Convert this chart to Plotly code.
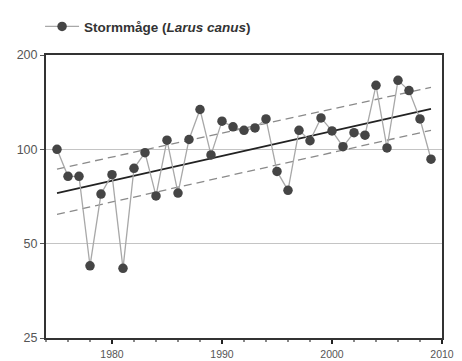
import plotly.graph_objects as go

years = list(range(1975, 2010))
index = [100, 82, 82, 42.5, 72, 83, 41.7, 87, 97.6, 71, 107, 72.5, 107.5, 134, 96,
         123, 118, 115, 117, 125, 85, 74, 115, 106.5, 126, 114.5, 102, 113, 111,
         160, 101, 166, 154, 125, 93]
trend_years = [1975, 2009]
trend = [72.5, 134.6]
upper = [86.5, 157.6]
lower = [62, 115]
y_ticks = [25, 50, 100, 200]
x_ticks = [1980, 1990, 2000, 2010]
series_name = "<b>Stormmåge (<i>Larus canus</i>)</b>"

fig = go.Figure()
for band in (upper, lower):
    fig.add_trace(go.Scatter(x=trend_years, y=band, mode="lines", showlegend=False,
                             line=dict(color="#8a8a8a", width=1.3, dash="8px,5px"),
                             hoverinfo="skip"))
fig.add_trace(go.Scatter(x=trend_years, y=trend, mode="lines", showlegend=False,
                         line=dict(color="#222222", width=1.6), hoverinfo="skip"))
fig.add_trace(go.Scatter(x=years, y=index, mode="lines+markers", name=series_name,
                         line=dict(color="#a8a8a8", width=1.3),
                         marker=dict(color="#454545", size=9.5)))

fig.update_layout(
    width=462, height=361,
    margin=dict(l=46, r=20, t=55, b=23, autoexpand=False),
    paper_bgcolor="white", plot_bgcolor="white",
    font=dict(family="Liberation Sans, Arial, sans-serif", size=12, color="#444444"),
    showlegend=True,
    legend=dict(x=-0.015, y=1.10, xanchor="left", yanchor="middle",
                font=dict(size=13.5, color="#333333"), bgcolor="rgba(0,0,0,0)",
                itemwidth=34),
    xaxis=dict(range=[1974, 2010], tickvals=x_ticks, ticks="outside", ticklen=4,
               tickwidth=1.5, tickcolor="#222", showgrid=False, zeroline=False,
               showline=True, linecolor="#333", linewidth=2, mirror=True,
               ticklabelstandoff=1,
               minor=dict(dtick=2, ticks="outside", ticklen=2, tickcolor="#888", showgrid=False),
               tickfont=dict(size=10.5, color="#555555")),
    yaxis=dict(type="log", range=[1.39794, 2.30103], tickvals=y_ticks,
               ticktext=[str(v) for v in y_ticks], ticks="outside", ticklen=4,
               tickcolor="#555", showgrid=True, gridcolor="#c4c4c4", gridwidth=1.3,
               zeroline=False, showline=True, linecolor="#333", linewidth=2, mirror=True,
               tickfont=dict(size=12.5, color="#555555")),
)
fig.write_html("out.html", config={"displayModeBar": False},
               post_script="document.body.style.margin='0';document.body.style.overflow='hidden';")
